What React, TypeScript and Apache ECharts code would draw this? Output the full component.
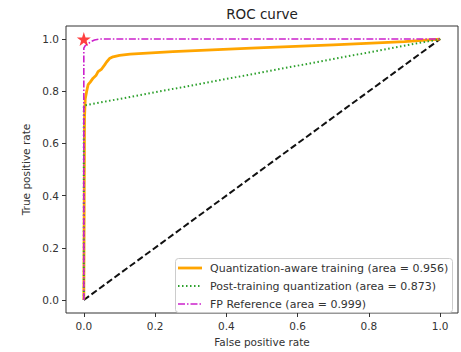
import React, { useEffect, useRef } from "react";
import * as echarts from "echarts";

const qatX = [0, 0.002, 0.004, 0.008, 0.012, 0.018, 0.026, 0.034, 0.04, 0.05, 0.058, 0.064, 0.072, 0.082, 0.1, 0.13, 0.25, 0.47, 0.7, 0.9, 1.0];
const qatY = [0, 0.7, 0.77, 0.8, 0.825, 0.835, 0.85, 0.86, 0.875, 0.885, 0.9, 0.912, 0.925, 0.932, 0.937, 0.942, 0.952, 0.965, 0.978, 0.99, 1.0];
const ptqX = [0, 0, 1];
const ptqY = [0, 0.745, 1];
const fpX = [0, 0, 0.004, 0.01, 0.02, 0.03, 0.045, 1.0];
const fpY = [0, 0.965, 0.975, 0.98, 0.99, 0.996, 1.0, 1.0];
const diagX = [0, 1];
const diagY = [0, 1];
const starPoint = [0, 1];
const ticks = [0, 0.2, 0.4, 0.6, 0.8, 1.0];
const names = [
  "Quantization-aware training (area = 0.956)",
  "Post-training quantization (area = 0.873)",
  "FP Reference (area = 0.999)",
];
const colors = ["#FFA500", "#2ca02c", "#cc22cc"];
const dashes: (number[] | null)[] = [null, [1.5, 2.5], [7, 2, 1.5, 2]];
const widths = [2.8, 2, 1.6];

const zip = (xs: number[], ys: number[]) => xs.map((x, i) => [x, ys[i]]);

const FONT = "DejaVu Sans";
const STAR =
  "path://M50,0 L61.8,35.1 L98.1,35.1 L68.8,56.7 L79.4,91 L50,70 L20.6,91 L31.2,56.7 L1.9,35.1 L38.2,35.1 Z";

export default function App() {
  const ref = useRef<HTMLDivElement>(null);
  useEffect(() => {
    const chart = echarts.init(ref.current!, null, { renderer: "svg" });
    const axisCommon = {
      type: "value" as const,
      min: -0.05,
      max: 1.05,
      splitLine: { show: false },
      axisLine: { show: false, onZero: false },
      axisTick: { show: true, customValues: ticks, length: 4, lineStyle: { color: "#333" } },
      axisLabel: {
        customValues: ticks,
        formatter: (v: number) => v.toFixed(1),
        color: "#333",
        fontSize: 10.5,
        fontFamily: FONT,
        margin: 7,
      },
      nameLocation: "middle" as const,
      nameTextStyle: { color: "#333", fontSize: 10.5, fontFamily: FONT },
    };
    const legendRowY = [268, 286, 304];
    const legendItems: any[] = [
      {
        type: "rect",
        shape: { x: 175.5, y: 258.5, width: 277, height: 54, r: 3 },
        style: { fill: "rgba(255,255,255,0.85)", stroke: "#cccccc", lineWidth: 1 },
        z: 100,
      },
      {
        type: "text",
        x: 262,
        y: 14,
        style: {
          text: "ROC curve",
          fill: "#222",
          font: `13.5px "${FONT}"`,
          align: "center",
          verticalAlign: "middle",
        },
        z: 101,
      },
    ];
    names.forEach((n, i) => {
      const st: any = { stroke: colors[i], lineWidth: widths[i] };
      if (dashes[i]) st.lineDash = dashes[i];
      legendItems.push({
        type: "line",
        shape: { x1: 178, y1: legendRowY[i], x2: 202, y2: legendRowY[i] },
        style: st,
        z: 101,
      });
      legendItems.push({
        type: "text",
        x: 210,
        y: legendRowY[i],
        style: {
          text: n,
          fill: "#333",
          font: `11px "${FONT}"`,
          verticalAlign: "middle",
          align: "left",
        },
        z: 101,
      });
    });
    chart.setOption({
      animation: false,
      backgroundColor: "#fff",
      grid: {
        left: 66,
        top: 26,
        width: 392,
        height: 291,
        show: true,
        borderColor: "#333",
        borderWidth: 1,
        backgroundColor: "#fff",
      },
      xAxis: { ...axisCommon, name: "False positive rate", nameGap: 23 },
      yAxis: { ...axisCommon, name: "True positive rate", nameGap: 27 },
      graphic: legendItems,
      series: [
        {
          name: "diag",
          type: "line",
          data: zip(diagX, diagY),
          symbol: "none",
          lineStyle: { color: "#111", width: 2, type: [6.5, 3] },
          z: 1,
        },
        {
          name: names[0],
          type: "line",
          data: zip(qatX, qatY),
          symbol: "none",
          lineStyle: { color: colors[0], width: widths[0] },
          z: 2,
        },
        {
          name: names[1],
          type: "line",
          data: zip(ptqX, ptqY),
          symbol: "none",
          lineStyle: { color: colors[1], width: widths[1], type: dashes[1] },
          z: 3,
        },
        {
          name: names[2],
          type: "line",
          data: zip(fpX, fpY),
          symbol: "none",
          lineStyle: { color: colors[2], width: widths[2], type: dashes[2] },
          z: 4,
        },
        {
          name: "star",
          type: "scatter",
          data: [starPoint],
          symbol: STAR,
          symbolSize: 14,
          itemStyle: { color: "#ff1010" },
          z: 5,
        },
      ],
    });
    return () => chart.dispose();
  }, []);
  return (
    <div
      ref={ref}
      style={{ position: "fixed", left: 0, top: 0, width: 461, height: 352 }}
    />
  );
}
